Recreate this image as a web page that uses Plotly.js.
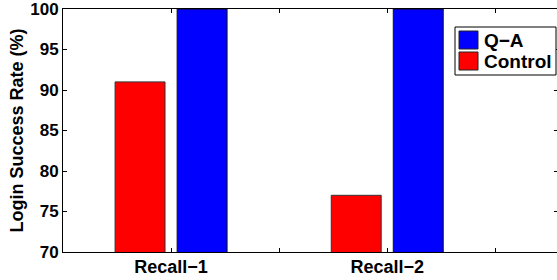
<!DOCTYPE html>
<html>
<head>
<meta charset="utf-8">
<script src="https://cdn.plot.ly/plotly-3.0.1.min.js"></script>
<style>html,body{margin:0;padding:0;overflow:hidden;background:#fff;}</style>
</head>
<body>
<div id="chart"></div>
<script>
// Data
const categories = ['Recall\u22121', 'Recall\u22122'];
const categoryPos = [1, 2];
const seriesNames = ['Control', 'Q\u2212A'];
const controlValues = [91, 77];
const qaValues = [100, 100];
const seriesColors = ['#ff0000', '#0000ff'];
const yTicks = [70, 75, 80, 85, 90, 95, 100];

const FONT = 'Liberation Sans, Arial, Helvetica, sans-serif';

const traces = [
  {type: 'bar', x: categoryPos, y: controlValues, name: seriesNames[0],
   marker: {color: seriesColors[0], line: {color: '#333', width: 1}}},
  {type: 'bar', x: categoryPos, y: qaValues, name: seriesNames[1],
   marker: {color: seriesColors[1], line: {color: '#111', width: 1}}}
];

// Plot area in pixels: x 63..558, y 9..252
const L = 63, R = 558, T = 9, B = 252;
const px = v => (v - L) / (R - L);
const py = v => (B - v) / (B - T);

// custom legend (Q-A first, then Control)
const legendOrder = [1, 0];
const shapes = [{
  type: 'rect', xref: 'paper', yref: 'paper',
  x0: px(455), x1: px(556), y0: py(75), y1: py(27),
  line: {color: '#000', width: 1}, fillcolor: '#fff', layer: 'above'
}];
const annotations = [];
legendOrder.forEach((idx, i) => {
  const top = 31 + i * 21;
  shapes.push({
    type: 'rect', xref: 'paper', yref: 'paper',
    x0: px(459), x1: px(478), y0: py(top + 18), y1: py(top),
    line: {color: '#222', width: 1}, fillcolor: seriesColors[idx], layer: 'above'
  });
  annotations.push({
    xref: 'paper', yref: 'paper', x: px(482), y: py(top + 9.5),
    xanchor: 'left', yanchor: 'middle', showarrow: false,
    text: seriesNames[idx],
    font: {family: FONT, size: 19, color: '#000', weight: 'bold'}
  });
});

const layout = {
  width: 561, height: 280,
  margin: {l: L, r: 561 - R, t: T, b: 280 - B},
  paper_bgcolor: '#fff', plot_bgcolor: '#fff',
  showlegend: false,
  barmode: 'group', bargap: 0.426, bargroupgap: 0.195,
  font: {family: FONT, color: '#000'},
  xaxis: {
    range: [0.5, 2.79],
    tickmode: 'array', tickvals: [1, 1.5, 2, 2.5],
    ticktext: [categories[0], '', categories[1], ''],
    ticks: 'inside', ticklen: 4, tickcolor: '#000',
    showline: true, linecolor: '#000', linewidth: 1, mirror: 'ticks',
    showgrid: false, zeroline: false, ticklabelstandoff: -2,
    ticklabeloverflow: 'allow',
    tickfont: {family: FONT, size: 18, color: '#000', weight: 'bold'}
  },
  yaxis: {
    range: [70, 100],
    tickmode: 'array', tickvals: yTicks,
    ticks: 'inside', ticklen: 4, tickcolor: '#000',
    showline: true, linecolor: '#000', linewidth: 1, mirror: 'ticks',
    showgrid: false, zeroline: false, ticklabeloverflow: 'allow',
    tickfont: {family: FONT, size: 17, color: '#000', weight: 'bold'},
    title: {text: 'Login Success Rate (%)', standoff: 1,
            font: {family: FONT, size: 18, color: '#000', weight: 'bold'}}
  },
  shapes: shapes,
  annotations: annotations
};

Plotly.newPlot('chart', traces, layout, {displayModeBar: false, staticPlot: true});
</script>
</body>
</html>
